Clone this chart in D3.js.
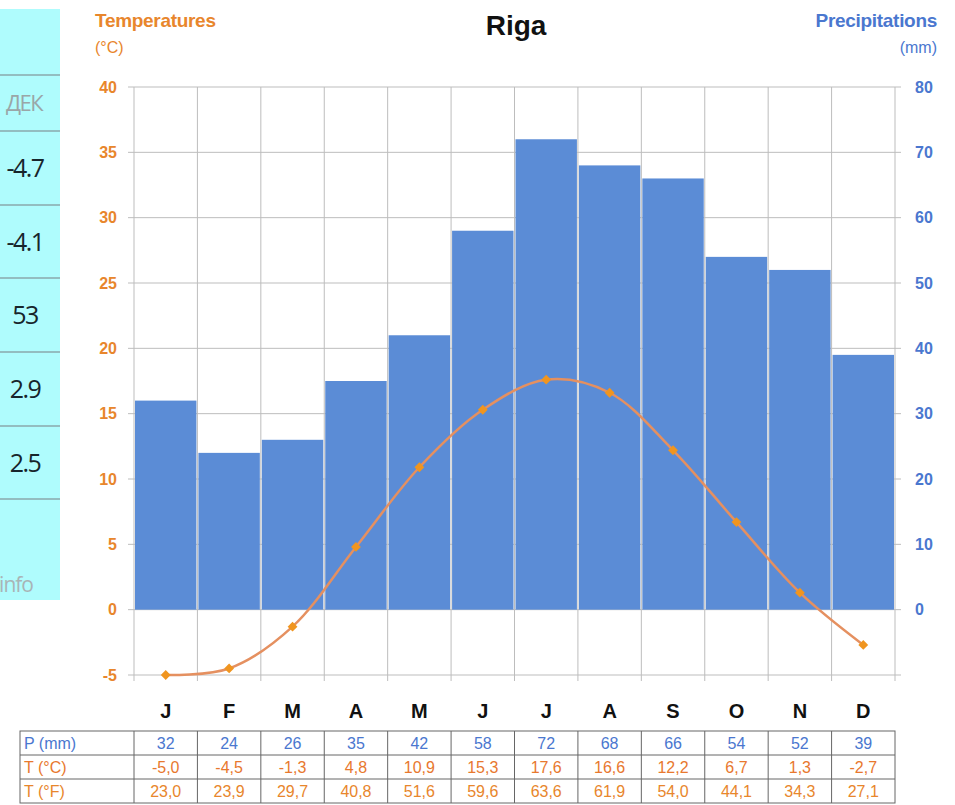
<html>
<head>
<meta charset="utf-8">
<title>Riga</title>
<style>
body { margin: 0; background: #fff; }
svg text { font-family: Arial, "Liberation Sans", sans-serif; }
</style>
</head>
<body>
<svg width="955" height="805"></svg>
<script src="https://cdn.jsdelivr.net/npm/d3@7"></script>
<script>
// data
let months = ['J', 'F', 'M', 'A', 'M', 'J', 'J', 'A', 'S', 'O', 'N', 'D'];
let precip = [32, 24, 26, 35, 42, 58, 72, 68, 66, 54, 52, 39];
let tempC = [-5.0, -4.5, -1.3, 4.8, 10.9, 15.3, 17.6, 16.6, 12.2, 6.7, 1.3, -2.7];
let tempF = [23.0, 23.9, 29.7, 40.8, 51.6, 59.6, 63.6, 61.9, 54.0, 44.1, 34.3, 27.1];
let tempTicks = [-5, 0, 5, 10, 15, 20, 25, 30, 35, 40];
let precipTicks = [0, 10, 20, 30, 40, 50, 60, 70, 80];
let rowNames = ['P (mm)', 'T (°C)', 'T (°F)'];
// cut-off panel on the left edge of the screenshot
let sideHead = ['ДЕК'];
let sideVals = ['-4.7', '-4.1', '53', '2.9', '2.5'];

let orange = '#e8862c', blue = '#4a77cf', barColor = '#5b8cd6', grid = '#bdbdbd';
let pLeft = 134, pRight = 895, pTop = 87, pBottom = 675;

let svg = d3.select('svg');
let idx = d3.range(12);

let x = d3.scaleBand().domain(idx).range([pLeft, pRight]);
let yT = d3.scaleLinear().domain([-5, 40]).range([pBottom, pTop]);
let yP = d3.scaleLinear().domain([-10, 80]).range([pBottom, pTop]);
let bw = x.bandwidth();

// side panel
let side = svg.append('g');
side.append('rect').attr('x', 0).attr('y', 9).attr('width', 60).attr('height', 591).attr('fill', '#affcfd');
let sepY = [75, 131, 205, 278, 352, 426, 499];
side.selectAll('line').data(sepY).join('line')
  .attr('x1', 0).attr('x2', 60).attr('y1', d => d).attr('y2', d => d)
  .attr('stroke', '#8aa9ab').attr('stroke-width', 1.5);
side.append('text').attr('x', 24).attr('y', 111).attr('text-anchor', 'middle')
  .attr('fill', '#9aa6a8').style('font-family', '"Open Sans", sans-serif').style('font-size', '22px')
  .attr('letter-spacing', -1.5).text(sideHead[0]);
side.selectAll('text.v').data(sideVals).join('text').attr('class', 'v')
  .attr('x', 25).attr('y', (d, i) => (sepY[i + 1] + sepY[i + 2]) / 2 + 9).attr('text-anchor', 'middle')
  .attr('fill', '#17252b').style('font-family', '"Open Sans", sans-serif').style('font-size', '25px')
  .attr('letter-spacing', -1.5).text(d => d);
side.append('text').attr('x', 33).attr('y', 592).attr('text-anchor', 'end')
  .attr('fill', '#a9b4b6').style('font-family', '"Open Sans", sans-serif').style('font-size', '21px')
  .attr('letter-spacing', -1).text('info');

// grid
let g = svg.append('g');
g.selectAll('line.h').data(tempTicks).join('line').attr('class', 'h')
  .attr('x1', pLeft - 6).attr('x2', pRight + 6).attr('y1', d => yT(d)).attr('y2', d => yT(d))
  .attr('stroke', grid);
let edges = d3.range(13).map(i => pLeft + i * bw);
g.selectAll('line.v').data(edges).join('line').attr('class', 'v')
  .attr('x1', d => d).attr('x2', d => d).attr('y1', pTop).attr('y2', pBottom + 6)
  .attr('stroke', grid);

// bars
svg.append('g').selectAll('rect').data(precip).join('rect')
  .attr('x', (d, i) => x(i) + 1).attr('width', bw - 2)
  .attr('y', d => yP(d)).attr('height', d => yP(0) - yP(d))
  .attr('fill', barColor);

// temperature line
let line = d3.line().x((d, i) => x(i) + bw / 2).y(d => yT(d)).curve(d3.curveCatmullRom.alpha(0.5));
svg.append('path').attr('d', line(tempC)).attr('fill', 'none')
  .attr('stroke', '#e59060').attr('stroke-width', 2.5);
svg.append('g').selectAll('path').data(tempC).join('path')
  .attr('transform', (d, i) => `translate(${x(i) + bw / 2},${yT(d)}) rotate(45)`)
  .attr('d', d3.symbol(d3.symbolSquare, 48))
  .attr('fill', '#f0951f');

// axes
let axL = svg.append('g').attr('transform', `translate(${pLeft},0)`)
  .call(d3.axisLeft(yT).tickValues(tempTicks).tickFormat(d => String(d)).tickSize(0).tickPadding(17));
axL.select('.domain').remove();
axL.selectAll('text').attr('fill', orange).style('font-size', '16px').style('font-weight', 'bold');

let axR = svg.append('g').attr('transform', `translate(${pRight},0)`)
  .call(d3.axisRight(yP).tickValues(precipTicks).tickFormat(d => String(d)).tickSize(0).tickPadding(20));
axR.select('.domain').remove();
axR.selectAll('text').attr('fill', blue).style('font-size', '16px').style('font-weight', 'bold');

// titles
svg.append('text').attr('x', 516).attr('y', 35).attr('text-anchor', 'middle')
  .style('font-size', '28px').style('font-weight', 'bold').attr('fill', '#111').text('Riga');
svg.append('text').attr('x', 95).attr('y', 27).style('font-size', '19px').style('font-weight', 'bold')
  .attr('letter-spacing', -0.3).attr('fill', orange).text('Temperatures');
svg.append('text').attr('x', 95).attr('y', 53).style('font-size', '16px').attr('fill', orange).text('(°C)');
svg.append('text').attr('x', 937).attr('y', 27).attr('text-anchor', 'end').style('font-size', '19px')
  .style('font-weight', 'bold').attr('letter-spacing', -0.3).attr('fill', blue).text('Precipitations');
svg.append('text').attr('x', 937).attr('y', 53).attr('text-anchor', 'end').style('font-size', '16px')
  .attr('fill', blue).text('(mm)');

// month labels
svg.append('g').selectAll('text').data(months).join('text')
  .attr('x', (d, i) => x(i) + bw / 2).attr('y', 718).attr('text-anchor', 'middle')
  .style('font-size', '20px').style('font-weight', 'bold').attr('fill', '#111').text(d => d);

// table
let tTop = 731, rowH = 24, tLeft = 20;
let fmt = v => v.toFixed(1).replace('.', ',');
let rows = [precip.map(String), tempC.map(fmt), tempF.map(fmt)];
let rowColors = [blue, '#e8782e', '#e8862c'];
let tb = svg.append('g');
tb.append('rect').attr('x', tLeft).attr('y', tTop).attr('width', pRight - tLeft).attr('height', rowH * 3)
  .attr('fill', 'none').attr('stroke', '#666');
tb.selectAll('line.r').data([1, 2]).join('line').attr('class', 'r')
  .attr('x1', tLeft).attr('x2', pRight).attr('y1', d => tTop + d * rowH).attr('y2', d => tTop + d * rowH)
  .attr('stroke', '#666');
tb.selectAll('line.c').data(edges.slice(0, 12)).join('line').attr('class', 'c')
  .attr('x1', d => d).attr('x2', d => d).attr('y1', tTop).attr('y2', tTop + rowH * 3)
  .attr('stroke', '#666');
rows.forEach((r, ri) => {
  let ty = tTop + ri * rowH + rowH / 2 + 6;
  tb.append('text').attr('x', tLeft + 4).attr('y', ty).style('font-size', '16px')
    .attr('fill', rowColors[ri]).text(rowNames[ri]);
  tb.selectAll('text.c' + ri).data(r).join('text').attr('class', 'c' + ri)
    .attr('x', (d, i) => x(i) + bw / 2).attr('y', ty).attr('text-anchor', 'middle')
    .style('font-size', '16px').attr('fill', rowColors[ri]).text(d => d);
});
</script>
</body>
</html>
